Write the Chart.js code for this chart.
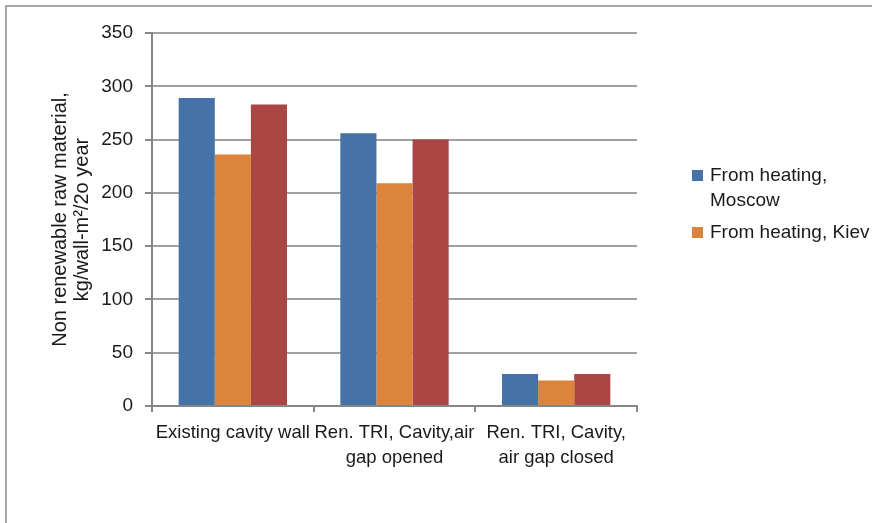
<!DOCTYPE html>
<html>
<head>
<meta charset="utf-8">
<script src="https://cdn.jsdelivr.net/npm/chart.js@4/dist/chart.umd.min.js"></script>
<style>
  html, body { margin: 0; padding: 0; background: #fff; }
  #wrap { width: 872px; height: 523px; }
</style>
</head>
<body>
<div id="wrap"><canvas id="chart" width="872" height="523"></canvas></div>
<script>
const categories = [
    "Existing cavity wall",
    ["Ren. TRI, Cavity,air", "gap opened"],
    ["Ren. TRI, Cavity,", "air gap closed"]
];
const moscow = [289, 256, 30];
const kiev = [236, 209, 24];
const third = [283, 250, 30];
const yTicks = [0, 50, 100, 150, 200, 250, 300, 350];

const FONT = "'Liberation Sans', Arial, sans-serif";

// frame (top and left edges of the chart box) and the wrapped legend on the right
const framePlugin = {
    id: "frame",
    beforeDraw(chart) {
        const ctx = chart.ctx;
        ctx.save();
        ctx.fillStyle = "#ffffff";
        ctx.fillRect(0, 0, chart.width, chart.height);
        ctx.strokeStyle = "#a6a6a6";
        ctx.lineWidth = 2;
        ctx.beginPath();
        ctx.moveTo(6, chart.height);
        ctx.lineTo(6, 6);
        ctx.lineTo(chart.width, 6);
        ctx.stroke();
        ctx.restore();
    },
    afterDraw(chart) {
        const ctx = chart.ctx;
        const items = [
            { lines: ["From heating,", "Moscow"], color: chart.data.datasets[0].backgroundColor },
            { lines: ["From heating, Kiev"], color: chart.data.datasets[1].backgroundColor }
        ];
        ctx.save();
        ctx.font = "19px " + FONT;
        ctx.textBaseline = "middle";
        let y = 176;
        items.forEach((it) => {
            ctx.fillStyle = it.color;
            ctx.fillRect(692, y - 6, 11, 11);
            ctx.fillStyle = "#1a1a1a";
            it.lines.forEach((ln) => {
                ctx.fillText(ln, 710, y);
                y += 25;
            });
            y += 7;
        });
        ctx.restore();
    }
};

const ctx = document.getElementById("chart").getContext("2d");
new Chart(ctx, {
    type: "bar",
    data: {
        labels: categories,
        datasets: [
            { label: "From heating, Moscow", data: moscow, backgroundColor: "#4572a7" },
            { label: "From heating, Kiev", data: kiev, backgroundColor: "#db843d" },
            { label: "Series 3", data: third, backgroundColor: "#aa4643" }
        ]
    },
    options: {
        responsive: false,
        animation: false,
        devicePixelRatio: 1,
        layout: { padding: { left: 6, right: 235, top: 33, bottom: 37 } },
        datasets: {
            bar: { categoryPercentage: 0.67, barPercentage: 1.0, borderWidth: 0 }
        },
        scales: {
            x: {
                offset: true,
                afterFit(axis) { axis.height = 80; },
                grid: {
                    offset: true,
                    drawOnChartArea: false,
                    drawTicks: true,
                    tickLength: 6,
                    color: "#868686",
                    lineWidth: 2
                },
                border: { color: "#868686", width: 2 },
                ticks: {
                    color: "#1a1a1a",
                    font: { family: FONT, size: 18.5, lineHeight: 1.38 },
                    padding: 8,
                    maxRotation: 0,
                    autoSkip: false
                }
            },
            y: {
                min: 0,
                max: 350,
                afterFit(axis) { axis.width = 146; },
                afterBuildTicks(axis) {
                    axis.ticks = yTicks.map((v) => ({ value: v }));
                },
                grid: {
                    color: "#a0a0a0",
                    lineWidth: 2,
                    drawTicks: true,
                    tickLength: 7,
                    tickColor: "#868686"
                },
                border: { color: "#868686", width: 2 },
                ticks: {
                    color: "#1a1a1a",
                    font: { family: FONT, size: 19 },
                    padding: 12
                },
                title: {
                    display: true,
                    text: ["Non renewable raw material,", "kg/wall-m\u00b2/2o year"],
                    color: "#1a1a1a",
                    font: { family: FONT, size: 20, lineHeight: 1.1 },
                    padding: { top: 43, bottom: 0 }
                }
            }
        },
        plugins: {
            legend: { display: false },
            tooltip: { enabled: false }
        }
    },
    plugins: [framePlugin]
});
</script>
</body>
</html>
